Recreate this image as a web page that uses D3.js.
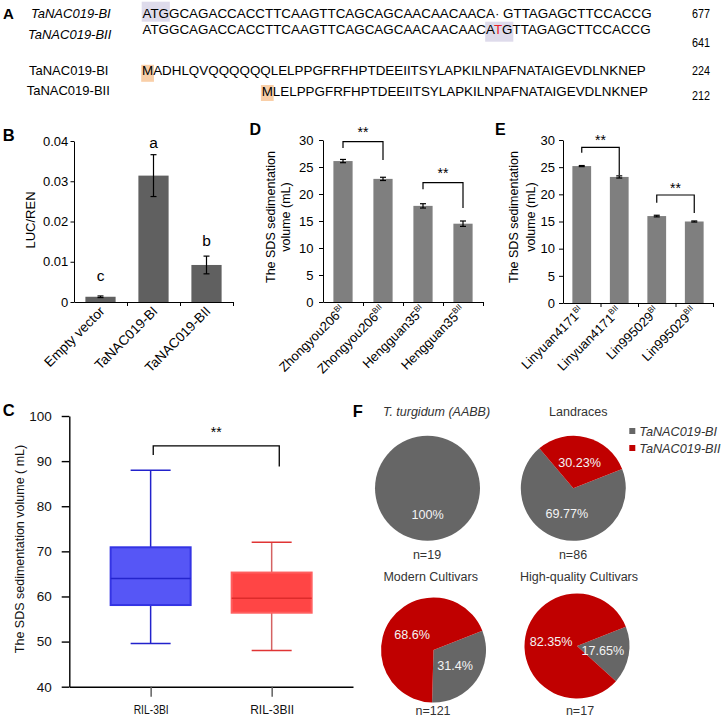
<!DOCTYPE html>
<html><head><meta charset="utf-8">
<script src="https://cdn.jsdelivr.net/npm/d3@7"></script>
<style>
body{margin:0;background:#fff;}
svg{display:block;font-family:Arial,"Liberation Sans",sans-serif;}
</style></head><body>
<svg id="chart" width="724" height="717"></svg>
<script>
// ---------------- DATA ----------------
const dnaLabels = ["TaNAC019-BI", "TaNAC019-BII"];
const dnaPrefix = "ATGGCAGACCACCTTCAAGTTCAGCAGCAACAACAACA";
const dnaGap = "\u00B7 ";
const dnaInsert = "T";
const dnaSuffix = "GTTAGAGCTTCCACCG";
const dnaLengths = [677, 641];
const protLabels = ["TaNAC019-BI", "TaNAC019-BII"];
const protSeqs = ["MADHLQVQQQQQQLELPPGFRFHPTDEEIITSYLAPKILNPAFNATAIGEVDLNKNEP",
                  "MLELPPGFRFHPTDEEIITSYLAPKILNPAFNATAIGEVDLNKNEP"];
const protLengths = [224, 212];

const lucCategories = ["Empty vector", "TaNAC019-BI", "TaNAC019-BII"];
const lucValues = [0.0013, 0.0314, 0.0092];
const lucErrors = [0.0002, 0.0052, 0.0022];
const lucLetters = ["c", "a", "b"];
const lucLetterAt = [0.0053, 0.0383, 0.0140];
const lucTicks = [0, 0.01, 0.02, 0.03, 0.04];

const sdsTicks = [0, 5, 10, 15, 20, 25, 30];
const dCategories = ["Zhongyou206", "Zhongyou206", "Hengguan35", "Hengguan35"];
const dAlleles = ["BI", "BII", "BI", "BII"];
const dValues = [26.1, 22.8, 17.8, 14.5];
const dErrors = [0.3, 0.3, 0.4, 0.5];
const dBrackets = [[0, 1, 29.7, 28.5, 26.3, 31.9], [2, 3, 22.1, 20.9, 17.4, 24.4]];

const eCategories = ["Linyuan4171", "Linyuan4171", "Lin995029", "Lin995029"];
const eAlleles = ["BI", "BII", "BI", "BII"];
const eValues = [25.2, 23.2, 16.0, 15.0];
const eErrors = [0.1, 0.2, 0.15, 0.1];
const eBrackets = [[0, 1, 28.66, 27.66, 23.56, 30.55], [2, 3, 19.88, 18.46, 16.57, 21.7]];

const boxGroups = ["RIL-3BI", "RIL-3BII"];
const boxMin = [49.6, 48.0];
const boxQ1 = [58.1, 56.4];
const boxMedian = [64.0, 59.6];
const boxQ3 = [70.9, 65.3];
const boxMax = [88.0, 72.0];
const boxTicks = [40, 50, 60, 70, 80, 90, 100];
const boxBracket = [93.37, 91.37, 88.78, 97.07];

const pieTitles = ["T. turgidum (AABB)", "Landraces", "Modern Cultivars", "High-quality Cultivars"];
const pieBI = [100, 69.77, 31.4, 17.65];
const pieBII = [0, 30.23, 68.6, 82.35];
const pieN = [19, 86, 121, 17];
const alleleNames = ["TaNAC019-BI", "TaNAC019-BII"];

// ---------------- DRAW ----------------
const svg = d3.select("#chart");

function panelLetter(t, x, y, fs) {
  svg.append("text").attr("x", x).attr("y", y).attr("font-weight", "bold")
    .attr("font-size", fs).attr("fill", "#000").text(t);
}

// ===== Panel A =====
panelLetter("A", 3, 19.3, 15);
const gA = svg.append("g");
const seqFs = 13.4;
const dnaLabelPos = [[31, 18], [28, 38.7]];
dnaLabels.forEach((l, i) => {
  gA.append("text").attr("x", dnaLabelPos[i][0]).attr("y", dnaLabelPos[i][1])
    .attr("font-size", 13).attr("font-style", "italic").text(l);
});
const protLabelPos = [[29, 74.7], [26.7, 95.4]];
protLabels.forEach((l, i) => {
  gA.append("text").attr("x", protLabelPos[i][0]).attr("y", protLabelPos[i][1])
    .attr("font-size", 13).text(l);
});
const hlLayer = gA.append("g");
const dna1 = gA.append("text").attr("x", 142.5).attr("y", 18.1).attr("font-size", seqFs)
  .text(dnaPrefix + dnaGap + dnaSuffix);
const dna2 = gA.append("text").attr("x", 142.5).attr("y", 34.1).attr("font-size", seqFs);
dna2.append("tspan").text(dnaPrefix);
dna2.append("tspan").attr("fill", "#e8202a").text(dnaInsert);
dna2.append("tspan").text(dnaSuffix);
const prot1 = gA.append("text").attr("x", 142).attr("y", 74.8).attr("font-size", seqFs).text(protSeqs[0]);
const prot2 = gA.append("text").attr("x", 261.7).attr("y", 95.5).attr("font-size", seqFs).text(protSeqs[1]);

function hl(node, i0, i1, y, h, color) {
  const a = node.getStartPositionOfChar(i0).x;
  const b = node.getEndPositionOfChar(i1).x;
  hlLayer.append("rect").attr("x", a - 0.8).attr("y", y).attr("width", b - a + 1.6)
    .attr("height", h).attr("fill", color);
}
hl(dna1.node(), 0, 2, 1.7, 20, "#dedbeb");
hl(dna2.node(), dnaPrefix.length - 1, dnaPrefix.length + 1, 21.7, 20, "#dedbeb");
hl(prot1.node(), 0, 0, 64.8, 17, "#f9cfa8");
hl(prot2.node(), 0, 0, 85, 16, "#f9cfa8");

const numY = [18, 47, 74.7, 99.7];
[dnaLengths[0], dnaLengths[1], protLengths[0], protLengths[1]].forEach((n, i) => {
  gA.append("text").attr("x", 692).attr("y", numY[i]).attr("font-size", 12.5)
    .attr("textLength", 18).attr("lengthAdjust", "spacingAndGlyphs").text(n);
});

// ===== generic bar panel =====
function barPanel(o) {
  const g = svg.append("g");
  const x = d3.scaleBand().domain(d3.range(o.vals.length)).range([o.x0, o.x1])
    .paddingInner(o.pad).paddingOuter(o.pad / 2);
  const y = d3.scaleLinear().domain([0, o.max]).range([o.yBot, o.yTop]);
  g.selectAll("rect.bar").data(o.vals).join("rect").attr("class", "bar")
    .attr("x", (d, i) => x(i)).attr("y", d => y(d))
    .attr("width", x.bandwidth()).attr("height", d => o.yBot - y(d)).attr("fill", o.color);
  o.vals.forEach((v, i) => {
    const cx = x(i) + x.bandwidth() / 2, e = o.errs[i];
    const eg = g.append("g").attr("stroke", "#000").attr("stroke-width", 1.2);
    eg.append("line").attr("x1", cx).attr("x2", cx).attr("y1", y(v - e)).attr("y2", y(v + e));
    [v - e, v + e].forEach(t => eg.append("line").attr("x1", cx - 3).attr("x2", cx + 3).attr("y1", y(t)).attr("y2", y(t)));
  });
  const ya = g.append("g").attr("transform", `translate(${o.x0},0)`)
    .call(d3.axisLeft(y).tickValues(o.ticks).tickSize(o.tick).tickSizeOuter(0)
      .tickPadding(o.tickPad).tickFormat(o.fmt));
  ya.attr("font-family", null).attr("font-size", 13);
  ya.selectAll("text").attr("fill", "#000");
  ya.selectAll("line,path").attr("stroke", "#000");
  const xl = d3.scaleLinear().domain([0, o.vals.length]).range([o.x0, o.x1]);
  const xa = g.append("g").attr("transform", `translate(0,${o.yBot})`)
    .call(d3.axisBottom(xl).tickValues(d3.range(1, o.vals.length + 1)).tickSize(4)
      .tickSizeOuter(0).tickFormat(""));
  xa.selectAll("line,path").attr("stroke", "#000");
  o.cats.forEach((c, i) => {
    const cx = x(i) + x.bandwidth() / 2 + o.ldx;
    const t = g.append("text").attr("transform", `translate(${cx},${o.yBot + o.ldy}) rotate(-45)`)
      .attr("text-anchor", "end").attr("font-size", o.lfs).attr("fill", "#000").text(c);
    if (o.sups) t.append("tspan").attr("font-size", o.lfs * 0.62).attr("dy", -o.lfs * 0.4).text(o.sups[i]);
  });
  return { g, x, y };
}

function brackets(p, list) {
  list.forEach(b => {
    const xa = p.x(b[0]) + p.x.bandwidth() / 2, xb = p.x(b[1]) + p.x.bandwidth() / 2;
    p.g.append("path").attr("fill", "none").attr("stroke", "#000").attr("stroke-width", 1.2)
      .attr("d", `M${xa},${p.y(b[3])}V${p.y(b[2])}H${xb}V${p.y(b[4])}`);
    p.g.append("text").attr("x", (xa + xb) / 2).attr("y", p.y(b[5]) + 7.5).attr("text-anchor", "middle")
      .attr("font-size", 14).text("**");
  });
}

// ===== Panel B =====
panelLetter("B", 2.7, 140.7, 16.5);
const pB = barPanel({
  x0: 74, x1: 233, yTop: 141, yBot: 302, max: 0.04, ticks: lucTicks, tick: 3.5, tickPad: 2.2,
  fmt: d => d === 0 ? "0" : d3.format(".2f")(d), pad: 0.43, color: "#606060",
  vals: lucValues, errs: lucErrors, cats: lucCategories, lfs: 13.5, ldx: 5, ldy: 10
});
lucLetters.forEach((l, i) => {
  pB.g.append("text").attr("x", pB.x(i) + pB.x.bandwidth() / 2).attr("y", pB.y(lucLetterAt[i]))
    .attr("text-anchor", "middle").attr("font-size", 15.5).text(l);
});
svg.append("text").attr("transform", "translate(35,220) rotate(-90)").attr("text-anchor", "middle")
  .attr("font-size", 13).text("LUC/REN");

// ===== Panel D =====
panelLetter("D", 249.5, 135, 16);
const pD = barPanel({
  x0: 323, x1: 483, yTop: 140, yBot: 302, max: 30, ticks: sdsTicks, tick: 4, tickPad: 5.5,
  fmt: d3.format("d"), pad: 0.52, color: "#7f7f7f",
  vals: dValues, errs: dErrors, cats: dCategories, sups: dAlleles, lfs: 13, ldx: 3, ldy: 9
});
brackets(pD, dBrackets);
[["The SDS sedimentation", 274.5], ["volume (mL)", 289.5]].forEach(t =>
  svg.append("text").attr("transform", `translate(${t[1]},217) rotate(-90)`).attr("text-anchor", "middle")
    .attr("font-size", 12.5).text(t[0]));

// ===== Panel E =====
panelLetter("E", 495, 135, 16);
const pE = barPanel({
  x0: 563, x1: 713, yTop: 140, yBot: 303, max: 30, ticks: sdsTicks, tick: 4, tickPad: 4,
  fmt: d3.format("d"), pad: 0.5, color: "#7f7f7f",
  vals: eValues, errs: eErrors, cats: eCategories, sups: eAlleles, lfs: 13, ldx: 3, ldy: 9
});
brackets(pE, eBrackets);
[["The SDS sedimentation", 517.5], ["volume (mL)", 534.5]].forEach(t =>
  svg.append("text").attr("transform", `translate(${t[1]},217) rotate(-90)`).attr("text-anchor", "middle")
    .attr("font-size", 12.5).text(t[0]));

// ===== Panel C =====
panelLetter("C", 2.7, 416, 16.5);
const gC = svg.append("g");
const yC = d3.scaleLinear().domain([40, 100]).range([686.7, 416]);
const xC = d3.scalePoint().domain(boxGroups).range([69.3, 353]).padding(0.672);
const yaC = gC.append("g").attr("transform", "translate(69.3,0)")
  .call(d3.axisLeft(yC).tickValues(boxTicks).tickSize(7.6).tickSizeOuter(0).tickPadding(10).tickFormat(d3.format("d")));
yaC.attr("font-family", null).attr("font-size", 13.5);
yaC.selectAll("text").attr("fill", "#111");
yaC.selectAll("line,path").attr("stroke", "#000").attr("stroke-width", 1.4);
const xaC = gC.append("g").attr("transform", "translate(0,686.7)")
  .call(d3.axisBottom(xC).tickSize(10).tickSizeOuter(0).tickPadding(6));
xaC.attr("font-family", null).attr("font-size", 13);
xaC.select("path").attr("stroke", "#000").attr("stroke-width", 1.4);
xaC.selectAll("line").attr("stroke", "#555").attr("stroke-width", 1.4);
xaC.selectAll("text").attr("fill", "#111").attr("dy", "0.9em")
  .attr("textLength", (d, i) => [35, 44][i]).attr("lengthAdjust", "spacingAndGlyphs");

const boxStyle = [
  { fill: "#5656f6", stroke: "#3434e4", med: "#2424cc", whisk: "#2222cc", cap: "#2222cc" },
  { fill: "#ff4545", stroke: "#ff5f5f", med: "#dd2b2b", whisk: "#d46262", cap: "#e03434" }
];
boxGroups.forEach((gname, i) => {
  const cx = xC(gname), s = boxStyle[i], hw = 40, cw = 20;
  gC.append("line").attr("x1", cx).attr("x2", cx).attr("y1", yC(boxMax[i])).attr("y2", yC(boxQ3[i]))
    .attr("stroke", s.whisk).attr("stroke-width", 1.5);
  gC.append("line").attr("x1", cx).attr("x2", cx).attr("y1", yC(boxQ1[i])).attr("y2", yC(boxMin[i]))
    .attr("stroke", s.whisk).attr("stroke-width", 1.5);
  [boxMax[i], boxMin[i]].forEach(v => gC.append("line").attr("x1", cx - cw).attr("x2", cx + cw)
    .attr("y1", yC(v)).attr("y2", yC(v)).attr("stroke", s.cap).attr("stroke-width", 1.5));
  gC.append("rect").attr("x", cx - hw).attr("y", yC(boxQ3[i])).attr("width", 2 * hw)
    .attr("height", yC(boxQ1[i]) - yC(boxQ3[i])).attr("fill", s.fill).attr("stroke", s.stroke).attr("stroke-width", 2);
  gC.append("line").attr("x1", cx - hw).attr("x2", cx + hw).attr("y1", yC(boxMedian[i])).attr("y2", yC(boxMedian[i]))
    .attr("stroke", s.med).attr("stroke-width", 1.5);
});
{
  const xa = xC(boxGroups[0]) + 2.6, xb = xC(boxGroups[1]) + 7.6;
  gC.append("path").attr("fill", "none").attr("stroke", "#000").attr("stroke-width", 1.3)
    .attr("d", `M${xa},${yC(boxBracket[1])}V${yC(boxBracket[0])}H${xb}V${yC(boxBracket[2])}`);
  gC.append("text").attr("x", (xa + xb) / 2).attr("y", yC(boxBracket[3]) + 7.5).attr("text-anchor", "middle")
    .attr("font-size", 14).text("**");
}
svg.append("text").attr("transform", "translate(23.7,549) rotate(-90)").attr("text-anchor", "middle")
  .attr("font-size", 12.5).attr("fill", "#111").text("The SDS sedimentation volume ( mL)");

// ===== Panel F =====
panelLetter("F", 352.7, 417.3, 16.5);
const gF = svg.append("g");
const pieColors = ["#666666", "#c00000"];
const R = 52.5;
const pieCenters = [[427.5, 488.3], [573.3, 488.3], [433.5, 650], [577, 646]];
const pieStart = [0, 68.5, 68.5, 68.5];
const titlePos = [[436.5, 416.2], [578.3, 416.2], [430.7, 580.5], [579, 580.5]];
const nPos = [[427, 558.5], [573, 558.5], [433, 714.5], [580, 714.5]];
const arcGen = d3.arc().innerRadius(0).outerRadius(R);
pieTitles.forEach((t, i) => {
  gF.append("text").attr("x", titlePos[i][0]).attr("y", titlePos[i][1]).attr("text-anchor", "middle")
    .attr("font-size", 12.5).attr("fill", "#333").attr("font-style", i === 0 ? "italic" : null).text(t);
  const a0 = pieStart[i] * Math.PI / 180;
  const pie = d3.pie().sort(null).startAngle(a0).endAngle(a0 + 2 * Math.PI);
  const arcs = pie([pieBI[i], pieBII[i]]);
  const pg = gF.append("g").attr("transform", `translate(${pieCenters[i][0]},${pieCenters[i][1]})`);
  pg.selectAll("path").data(arcs).join("path").attr("d", arcGen).attr("fill", (d, k) => pieColors[k]);
  pg.selectAll("text").data(arcs.filter(d => d.value > 0)).join("text")
    .attr("x", d => arcGen.centroid(d)[0]).attr("y", d => arcGen.centroid(d)[1] + 4.5)
    .attr("text-anchor", "middle").attr("font-size", 12.6).attr("fill", "#f4f4f4")
    .text(d => d.value + "%");
  gF.append("text").attr("x", nPos[i][0]).attr("y", nPos[i][1]).attr("text-anchor", "middle")
    .attr("font-size", 12.5).attr("fill", "#333").text("n=" + pieN[i]);
});
alleleNames.forEach((n, k) => {
  const cy = 431 + k * 17;
  gF.append("rect").attr("x", 629.3).attr("y", cy - 3).attr("width", 6).attr("height", 6).attr("fill", pieColors[k]);
  gF.append("text").attr("x", 639.3).attr("y", cy + 4.5).attr("font-size", 12.7).attr("font-style", "italic")
    .attr("fill", "#333").text(n);
});
</script></body></html>
